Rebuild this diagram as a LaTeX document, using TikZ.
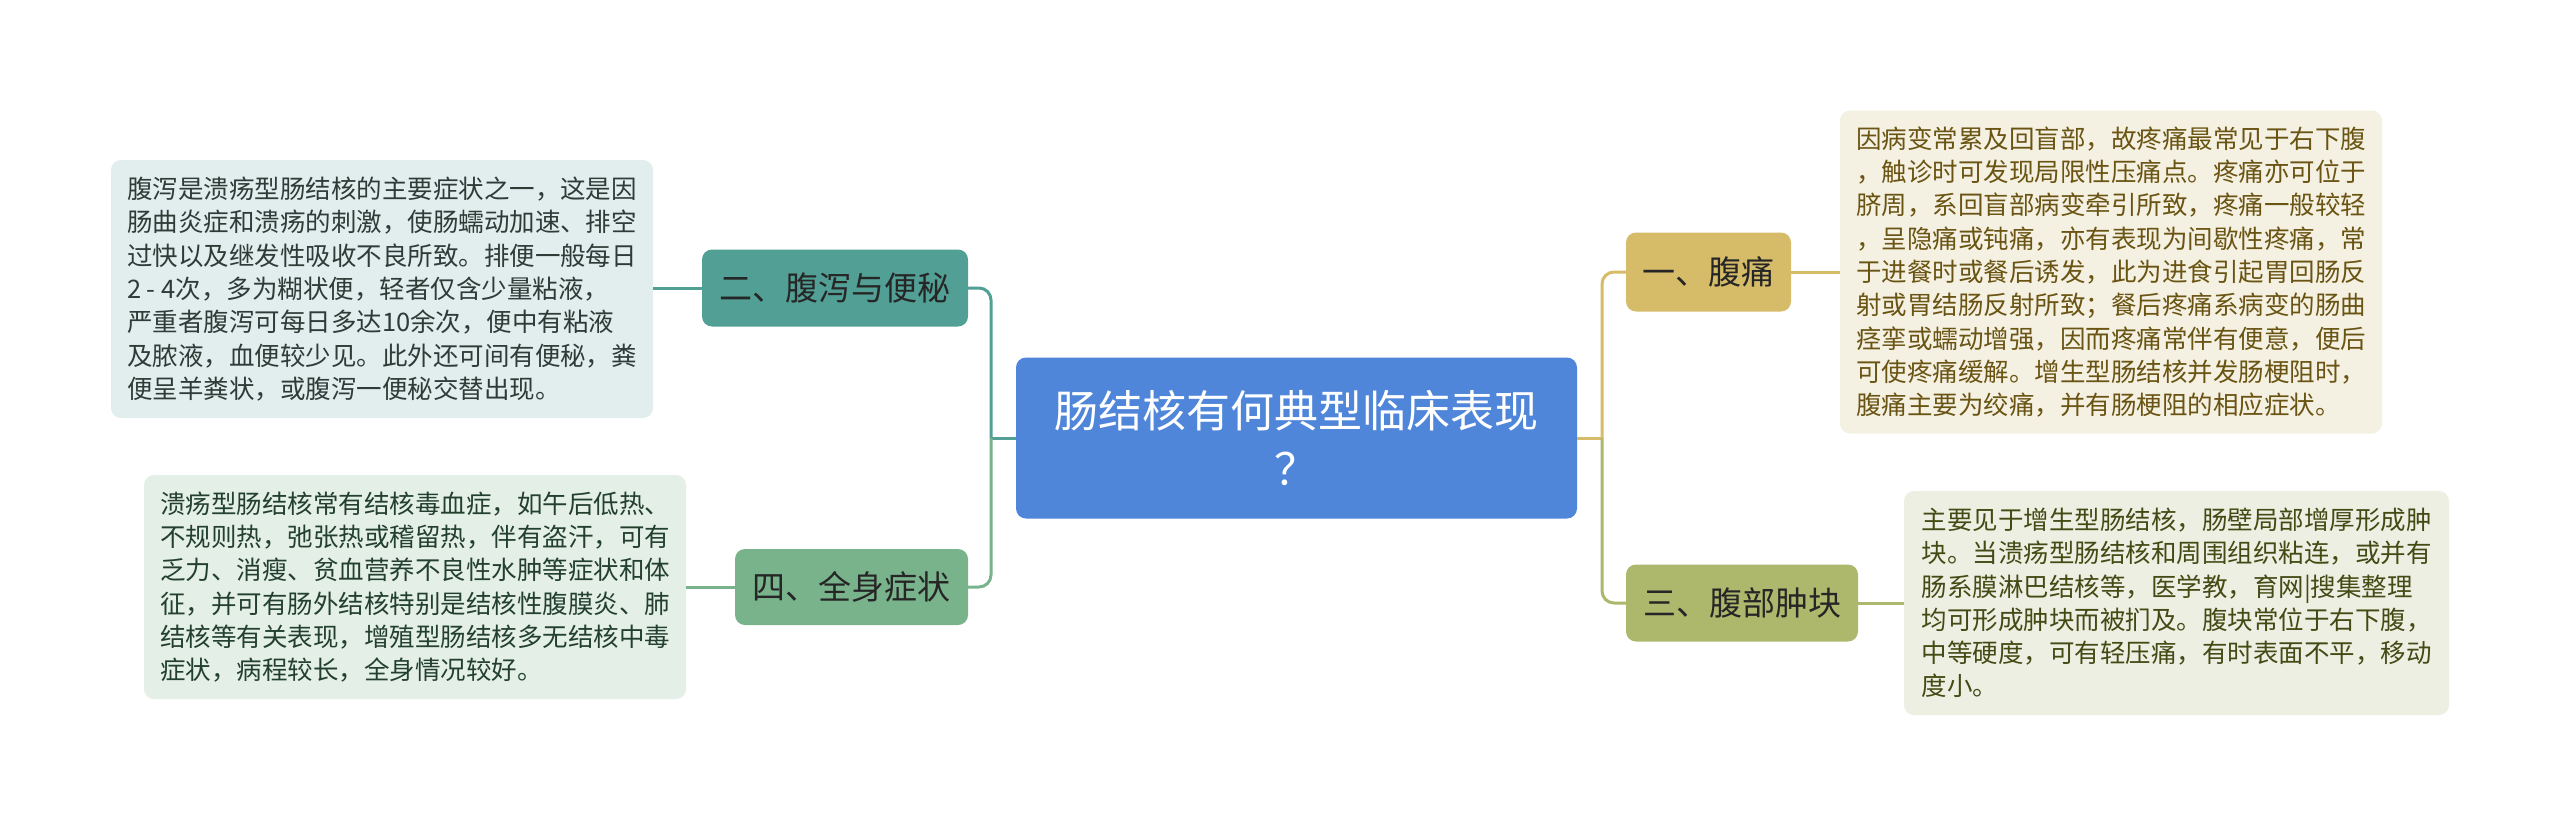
\documentclass[tikz,border=0pt]{standalone}
\usepackage{fontspec}
\setmainfont{Noto Sans CJK SC}
\definecolor{cmain}{HTML}{4F86DA}
\definecolor{ctwo}{HTML}{52A095}
\definecolor{cfour}{HTML}{79B38C}
\definecolor{cone}{HTML}{D6BC69}
\definecolor{cthree}{HTML}{AEB86C}
\definecolor{ltwo}{HTML}{E1EEED}
\definecolor{lfour}{HTML}{E4EFE8}
\definecolor{lone}{HTML}{F5F1E2}
\definecolor{lthree}{HTML}{EEEFE3}
\definecolor{ttwo}{HTML}{2E3B37}
\definecolor{tfour}{HTML}{23402F}
\definecolor{tone}{HTML}{6A5413}
\definecolor{tthree}{HTML}{444A14}
\definecolor{topictext}{HTML}{262626}
\tikzset{
  rootbox/.style={fill=cmain, rounded corners=10pt, text=white, align=center,
    font=\fontsize{44}{58}\selectfont, inner sep=0pt},
  topicbox/.style={rounded corners=10pt, text=topictext, align=center,
    font=\fontsize{33}{40}\selectfont, inner sep=0pt},
  leafbox/.style={rounded corners=10pt, align=left,
    font=\fontsize{25.5}{33.3}\selectfont, inner sep=0pt},
  link/.style={line width=3pt, rounded corners=12pt},
}
\begin{document}
\begin{tikzpicture}[x=1pt,y=-1pt]
\useasboundingbox[fill=white] (0,0) rectangle (2560,827);

\node[rootbox, minimum width=561pt, minimum height=161pt] (root) at (1296.5,438)
  {肠结核有何典型临床表现\\？};

\node[topicbox, fill=ctwo, minimum width=266pt, minimum height=77pt] (t2) at (835,288) {二、腹泻与便秘};
\node[topicbox, fill=cfour, minimum width=233pt, minimum height=76pt] (t4) at (851.5,587) {四、全身症状};
\node[topicbox, fill=cone, minimum width=165pt, minimum height=79pt] (t1) at (1708.5,272) {一、腹痛};
\node[topicbox, fill=cthree, minimum width=232pt, minimum height=77pt] (t3) at (1742,603) {三、腹部肿块};

\node[leafbox, fill=ltwo, text=ttwo, minimum width=542pt, minimum height=258pt] (l2) at (382,289)
  {腹泻是溃疡型肠结核的主要症状之一，这是因\\
   肠曲炎症和溃疡的刺激，使肠蠕动加速、排空\\
   过快以及继发性吸收不良所致。排便一般每日\\
   2 - 4次，多为糊状便，轻者仅含少量粘液，\\
   严重者腹泻可每日多达10余次，便中有粘液\\
   及脓液，血便较少见。此外还可间有便秘，粪\\
   便呈羊粪状，或腹泻一便秘交替出现。};

\node[leafbox, fill=lfour, text=tfour, minimum width=542pt, minimum height=224pt] (l4) at (415,587)
  {溃疡型肠结核常有结核毒血症，如午后低热、\\
   不规则热，弛张热或稽留热，伴有盗汗，可有\\
   乏力、消瘦、贫血营养不良性水肿等症状和体\\
   征，并可有肠外结核特别是结核性腹膜炎、肺\\
   结核等有关表现，增殖型肠结核多无结核中毒\\
   症状，病程较长，全身情况较好。};

\node[leafbox, fill=lone, text=tone, minimum width=542pt, minimum height=323pt] (l1) at (2111,272)
  {因病变常累及回盲部，故疼痛最常见于右下腹\\
   ，触诊时可发现局限性压痛点。疼痛亦可位于\\
   脐周，系回盲部病变牵引所致，疼痛一般较轻\\
   ，呈隐痛或钝痛，亦有表现为间歇性疼痛，常\\
   于进餐时或餐后诱发，此为进食引起胃回肠反\\
   射或胃结肠反射所致；餐后疼痛系病变的肠曲\\
   痉挛或蠕动增强，因而疼痛常伴有便意，便后\\
   可使疼痛缓解。增生型肠结核并发肠梗阻时，\\
   腹痛主要为绞痛，并有肠梗阻的相应症状。};

\node[leafbox, fill=lthree, text=tthree, minimum width=545pt, minimum height=224pt] (l3) at (2176.5,603)
  {主要见于增生型肠结核，肠壁局部增厚形成肿\\
   块。当溃疡型肠结核和周围组织粘连，或并有\\
   肠系膜淋巴结核等，医学教，育网|搜集整理\\
   均可形成肿块而被扪及。腹块常位于右下腹，\\
   中等硬度，可有轻压痛，有时表面不平，移动\\
   度小。};

\coordinate (jl) at (991,438);
\coordinate (jr) at (1602,438);

\draw[link, draw=ctwo] (root.west) -- (jl);
\draw[link, draw=ctwo] (jl) |- (t2.east);
\draw[link, draw=cfour] (jl) |- (t4.east);
\draw[link, draw=cone] (root.east) -- (jr);
\draw[link, draw=cone] (jr) |- (t1.west);
\draw[link, draw=cthree] (jr) |- (t3.west);

\draw[link, draw=ctwo] (t2.west) -- (l2.east |- t2.west);
\draw[link, draw=cfour] (t4.west) -- (l4.east |- t4.west);
\draw[link, draw=cone] (t1.east) -- (l1.west |- t1.east);
\draw[link, draw=cthree] (t3.east) -- (l3.west |- t3.east);
\end{tikzpicture}
\end{document}
